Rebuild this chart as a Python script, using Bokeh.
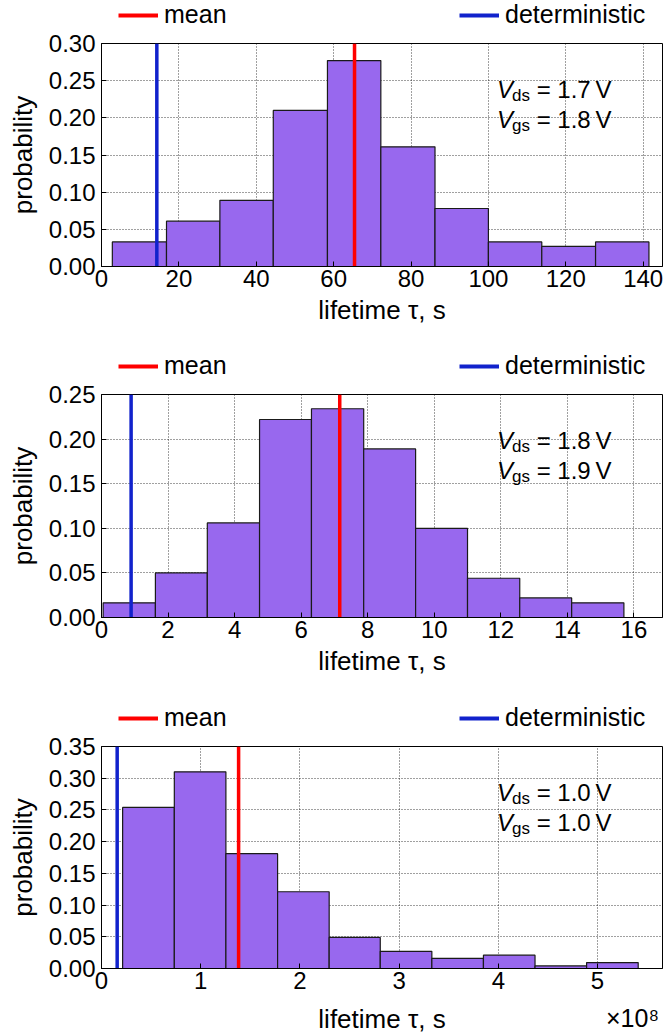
from bokeh.plotting import figure
from bokeh.models import (Legend, LegendItem, Label, FixedTicker, PrintfTickFormatter,
                          Range1d, LinearAxis)
from bokeh.layouts import column
from bokeh.embed import file_html
from bokeh.resources import INLINE

FONT = "Liberation Sans"
NAN = float("nan")

# ---------------- data ----------------
# Panel 1: Vds = 1.7 V, Vgs = 1.8 V, lifetime in s
edges1 = [2.8, 16.8, 30.6, 44.4, 58.4, 72.2, 86.2, 100.0, 113.8, 127.7, 141.5]
prob1 = [0.033, 0.061, 0.089, 0.210, 0.277, 0.161, 0.078, 0.033, 0.027, 0.033]
mean1 = 65.4
det1 = 14.3
xticks1 = [0, 20, 40, 60, 80, 100, 120, 140]
yticks1 = [0.0, 0.05, 0.10, 0.15, 0.20, 0.25, 0.30]
xmax1, ymax1 = 145.0, 0.30
vds1, vgs1 = "1.7", "1.8"

# Panel 2: Vds = 1.8 V, Vgs = 1.9 V, lifetime in s
edges2 = [0.05, 1.62, 3.18, 4.75, 6.31, 7.88, 9.44, 11.0, 12.57, 14.13, 15.70]
prob2 = [0.0164, 0.050, 0.106, 0.222, 0.234, 0.189, 0.100, 0.044, 0.022, 0.0164]
mean2 = 7.16
det2 = 0.89
xticks2 = [0, 2, 4, 6, 8, 10, 12, 14, 16]
yticks2 = [0.0, 0.05, 0.10, 0.15, 0.20, 0.25]
xmax2, ymax2 = 16.86, 0.25
vds2, vgs2 = "1.8", "1.9"

# Panel 3: Vds = 1.0 V, Vgs = 1.0 V, lifetime in units of 1e8 s
edges3 = [0.213, 0.734, 1.254, 1.775, 2.295, 2.81, 3.33, 3.85, 4.37, 4.89, 5.41]
prob3 = [0.254, 0.310, 0.181, 0.121, 0.049, 0.027, 0.016, 0.021, 0.004, 0.0094]
mean3 = 1.382
det3 = 0.158
xticks3 = [0, 1, 2, 3, 4, 5]
yticks3 = [0.0, 0.05, 0.10, 0.15, 0.20, 0.25, 0.30, 0.35]
xmax3, ymax3 = 5.655, 0.35
vds3, vgs3 = "1.0", "1.0"
exponent3 = "\u00d710\u2078"

legend_labels = ["mean", "deterministic"]

BAR = "#9868EE"
RED = "#FF0000"
BLUE = "#1122CC"
FS = "24px"
FSL = "26px"
XLABEL = "lifetime \u03c4, s"
STRIP_H = 31
TOP = 12


def legend_strip():
    s = figure(width=664, height=STRIP_H, output_backend="svg", toolbar_location=None,
               x_range=Range1d(0, 561), y_range=Range1d(0, STRIP_H),
               x_axis_type=None, y_axis_type=None,
               min_border_left=101, min_border_right=2, min_border_top=0,
               min_border_bottom=0)
    s.grid.visible = False
    s.outline_line_color = None
    s.background_fill_color = "white"
    s.border_fill_color = "white"
    r_mean = s.line(x=[NAN], y=[NAN], line_color=RED, line_width=4)
    r_det = s.line(x=[NAN], y=[NAN], line_color=BLUE, line_width=4)
    for lab, r, lx in ((legend_labels[0], r_mean, 17), (legend_labels[1], r_det, 358)):
        lg = Legend(items=[LegendItem(label=lab, renderers=[r])], location=(lx, 2),
                    padding=0, margin=0, spacing=0,
                    glyph_width=40, glyph_height=24, label_standoff=6,
                    label_text_font=FONT, label_text_font_size="25px",
                    label_text_color="black",
                    border_line_color=None, background_fill_alpha=0)
        s.add_layout(lg)
    return s


def style_axis(ax):
    ax.axis_line_color = "black"
    ax.major_tick_in = 5
    ax.major_tick_out = 0
    ax.minor_tick_line_color = None
    ax.major_label_text_font = FONT
    ax.major_label_text_font_size = FS
    ax.major_label_text_color = "black"
    ax.axis_label_text_font = FONT
    ax.axis_label_text_font_size = FSL
    ax.axis_label_text_font_style = "normal"
    ax.axis_label_text_color = "black"
    ax.major_tick_line_color = "black"


def make_panel(edges, probs, mean, det, xticks, yticks, xmax, ymax, vds, vgs,
               height, bottom, exponent=None):
    p = figure(width=664, height=height, output_backend="svg", toolbar_location=None,
               x_range=Range1d(0, xmax), y_range=Range1d(0, ymax),
               min_border_left=101, min_border_right=2, min_border_top=TOP,
               min_border_bottom=bottom)
    p.outline_line_color = "black"
    p.outline_line_width = 1
    p.background_fill_color = "white"
    p.border_fill_color = "white"

    p.quad(left=edges[:-1], right=edges[1:], bottom=0, top=probs,
           fill_color=BAR, line_color="#1a1a1a", line_width=1.2)
    p.line([mean, mean], [0, ymax], line_color=RED, line_width=3.5)
    p.line([det, det], [0, ymax], line_color=BLUE, line_width=3.5)

    style_axis(p.xaxis[0])
    style_axis(p.yaxis[0])
    p.xaxis.ticker = FixedTicker(ticks=xticks)
    p.yaxis.ticker = FixedTicker(ticks=yticks)
    p.yaxis.formatter = PrintfTickFormatter(format="%.2f")
    p.yaxis.axis_label = "probability"
    p.xaxis.major_label_standoff = 3
    p.yaxis.major_label_standoff = 6
    p.yaxis.axis_label_standoff = 8

    if exponent is None:
        p.xaxis.axis_label = XLABEL
        p.xaxis.axis_label_standoff = 5
    else:
        # second, tick-less axis carrying the x10^8 multiplier and the label
        xe = xmax * (531.0 / 561.0)
        ax2 = LinearAxis(ticker=FixedTicker(ticks=[xe]),
                         major_label_overrides={xe: exponent})
        style_axis(ax2)
        ax2.axis_line_color = None
        ax2.major_tick_line_color = None
        ax2.major_label_text_font_size = "25px"
        ax2.major_label_standoff = 12
        ax2.axis_label = XLABEL
        ax2.axis_label_standoff = -31
        p.add_layout(ax2, "below")

    for g in (p.xgrid[0], p.ygrid[0]):
        g.grid_line_color = "black"
        g.grid_line_alpha = 0.75
        g.grid_line_dash = "1 2"
        g.grid_line_width = 1

    xa = xmax * 0.705
    for yf, sub, val in ((0.794, "ds", vds), (0.659, "gs", vgs)):
        y = ymax * yf
        p.add_layout(Label(x=xa, y=y, text="V", text_font=FONT, text_font_style="italic",
                           text_font_size=FS, text_baseline="middle", text_color="black"))
        p.add_layout(Label(x=xa, y=y, x_offset=15, y_offset=-6, text=sub, text_font=FONT,
                           text_font_size="17px", text_baseline="middle", text_color="black"))
        p.add_layout(Label(x=xa, y=y, x_offset=33, text="\u00a0= " + val + "\u2009V",
                           text_font=FONT, text_font_size=FS, text_baseline="middle",
                           text_color="black"))
    return p


p1 = make_panel(edges1, prob1, mean1, det1, xticks1, yticks1, xmax1, ymax1, vds1, vgs1,
                351 - STRIP_H, 85)
p2 = make_panel(edges2, prob2, mean2, det2, xticks2, yticks2, xmax2, ymax2, vds2, vgs2,
                352 - STRIP_H, 86)
p3 = make_panel(edges3, prob3, mean3, det3, xticks3, yticks3, xmax3, ymax3, vds3, vgs3,
                333 - STRIP_H, 67, exponent=exponent3)

layout = column(legend_strip(), p1, legend_strip(), p2, legend_strip(), p3, spacing=0)
open("out.html", "w").write(file_html(layout, INLINE))
